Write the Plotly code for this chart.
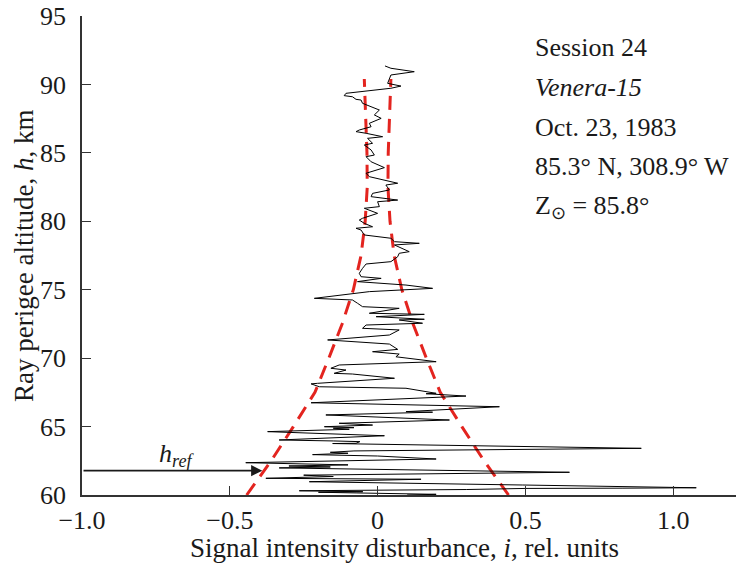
import plotly.graph_objects as go

# ---- data ----
signal_h = [91.35, 91.18, 90.93, 90.69, 90.08, 89.88, 89.72, 89.35, 89.18, 89.10,
            88.91, 88.86, 88.62, 88.26, 88.13, 87.77, 87.52, 87.16, 86.91, 86.67,
            86.55, 86.43, 86.18, 86.06, 85.70, 85.57, 85.21, 84.84, 84.72, 84.35,
            83.92, 83.51, 83.26, 82.78, 82.65, 82.29, 82.04, 81.80, 81.55, 81.43,
            81.07, 80.95, 80.58, 80.22, 80.09, 79.85, 79.60, 79.49, 79.36, 79.00,
            78.76, 78.51, 78.39, 78.27, 77.78, 77.66, 77.41, 77.05, 76.88, 76.56,
            76.20, 75.95, 75.83, 75.59, 75.34, 75.10, 74.86, 74.37, 74.25, 74.01,
            73.76, 73.64, 73.28, 73.20, 73.03, 72.84, 72.79, 72.55, 72.42, 72.18,
            72.06, 71.69, 71.33, 71.03, 70.64, 70.47, 70.30, 70.10, 69.92, 69.74,
            69.50, 69.26, 69.13, 68.89, 68.84, 68.53, 68.16, 68.12, 67.91, 67.80,
            67.43, 67.40, 67.23, 66.74, 66.45, 66.09, 66.05, 65.85, 65.48, 65.24,
            65.11, 64.99, 64.92, 64.88, 64.80, 64.63, 64.33, 64.02, 63.95, 63.90,
            63.78, 63.76, 63.41, 63.22, 63.12, 63.05, 62.95, 62.85, 62.63, 62.36,
            62.20, 62.12, 62.05, 61.98, 61.66, 61.45, 61.35, 61.30, 61.22, 61.15,
            60.97, 60.73, 60.60, 60.53, 60.50, 60.48, 60.40, 60.31, 60.24, 60.20,
            60.15, 60.10, 60.05, 60.00]
signal_i = [0.025, 0.045, 0.124, 0.045, 0.034, 0.079, 0.045, -0.107, -0.113, -0.085,
            -0.073, -0.056, -0.051, -0.011, 0.006, -0.011, 0.012, -0.028, -0.022, -0.062,
            -0.073, -0.039, 0.017, -0.034, -0.017, -0.045, -0.022, -0.011, -0.039, -0.022,
            0.023, -0.039, -0.028, 0.068, 0.028, 0.040, -0.017, -0.022, 0.068, 0.000,
            0.006, -0.045, 0.000, -0.051, -0.062, -0.045, -0.017, -0.073, -0.056, -0.045,
            0.045, 0.057, 0.141, 0.057, 0.107, 0.073, 0.068, 0.045, -0.039, -0.051,
            -0.062, -0.056, 0.012, -0.068, 0.096, 0.186, -0.028, -0.214, -0.085, -0.068,
            -0.051, 0.073, -0.028, 0.158, -0.005, 0.158, 0.073, 0.152, -0.039, -0.051,
            0.073, 0.040, -0.169, 0.040, 0.068, -0.017, 0.073, 0.062, 0.130, 0.198,
            -0.130, -0.158, -0.107, -0.147, -0.085, 0.057, -0.203, -0.225, -0.197, 0.096,
            0.198, 0.164, 0.299, -0.225, 0.412, 0.096, 0.186, -0.175, 0.243, -0.130,
            -0.017, -0.180, -0.080, -0.150, -0.096, -0.372, 0.023, -0.333, -0.150, -0.060,
            -0.073, -0.152, 0.892, -0.080, -0.160, -0.100, -0.220, 0.000, 0.198, -0.446,
            -0.100, -0.300, -0.160, -0.333, 0.649, -0.250, -0.150, -0.300, -0.378, 0.147,
            -0.231, 0.491, 0.800, 1.078, 0.830, 0.502, 0.300, -0.265, -0.050, -0.200,
            -0.070, 0.050, 0.198, 0.100]

envelope_h = [60.0, 62.5, 65.0, 67.5, 70.0, 72.5, 75.0, 77.5, 80.0, 82.5, 85.0, 87.5, 90.4]
envelope_left = [-0.443, -0.360, -0.285, -0.212, -0.165, -0.120, -0.082, -0.056, -0.042, -0.035, -0.036, -0.040, -0.045]
envelope_right = [0.443, 0.360, 0.285, 0.212, 0.165, 0.120, 0.082, 0.056, 0.042, 0.035, 0.036, 0.040, 0.045]

x_tick_vals = [-1.0, -0.5, 0.0, 0.5, 1.0]
x_tick_text = ["\u22121.0", "\u22120.5", "0", "0.5", "1.0"]
y_tick_vals = [60, 65, 70, 75, 80, 85, 90, 95]

h_ref = 61.78
h_ref_arrow_tip = -0.39

info_lines = ["Session 24", "<i>Venera-15</i>", "Oct. 23, 1983",
              "85.3° N, 308.9° W", "Z<sub>\u2299</sub> = 85.8°"]

# ---- figure ----
FONT = "Liberation Serif"
TXT = "#1a1a1a"
W, H = 736, 563
ML, MR, MT, MB = 82, 0, 16, 68
PW, PH = W - ML - MR, H - MT - MB
XMIN = -1.0
XMAX = XMIN + PW / 295.6

fig = go.Figure()
red = "#e3241f"
fig.add_trace(go.Scatter(x=envelope_left, y=envelope_h, mode="lines",
                         line=dict(color=red, width=3, dash="14px,9px"),
                         hoverinfo="skip", showlegend=False))
fig.add_trace(go.Scatter(x=envelope_right, y=envelope_h, mode="lines",
                         line=dict(color=red, width=3, dash="14px,9px"),
                         hoverinfo="skip", showlegend=False))
fig.add_trace(go.Scatter(x=signal_i, y=signal_h, mode="lines",
                         line=dict(color="black", width=1),
                         showlegend=False))

def py_to_paper(py):
    return 1 - (py - MT) / PH

def px_to_paper(px):
    return (px - ML) / PW

annotations = []
for k, t in enumerate(info_lines):
    annotations.append(dict(text=t, xref="paper", yref="paper",
                            x=px_to_paper(533), y=py_to_paper(47 + 40 * k),
                            xanchor="left", yanchor="middle", showarrow=False,
                            font=dict(family=FONT, size=26, color=TXT)))

# h_ref arrow
annotations.append(dict(x=h_ref_arrow_tip, y=h_ref, ax=XMIN, ay=h_ref,
                        xref="x", yref="y", axref="x", ayref="y",
                        showarrow=True, arrowhead=2, arrowsize=1.4, arrowwidth=1.6,
                        arrowcolor=TXT, text=""))
annotations.append(dict(text="<i>h<sub>ref</sub></i>", xref="paper", yref="paper",
                        x=px_to_paper(176), y=py_to_paper(455), xanchor="center",
                        yanchor="middle", showarrow=False,
                        font=dict(family=FONT, size=26, color=TXT)))
# axis titles
annotations.append(dict(text="Signal intensity disturbance, <i>i</i>, rel. units",
                        xref="paper", yref="paper", x=px_to_paper(404), y=py_to_paper(548),
                        xanchor="center", yanchor="middle", showarrow=False,
                        font=dict(family=FONT, size=27, color=TXT)))
annotations.append(dict(text="Ray perigee altitude, <i>h</i>, km",
                        xref="paper", yref="paper", x=px_to_paper(24), y=py_to_paper(256),
                        xanchor="center", yanchor="middle", showarrow=False, textangle=-90,
                        font=dict(family=FONT, size=27, color=TXT)))

fig.update_layout(
    width=W, height=H, margin=dict(l=ML, r=MR, t=MT, b=MB, pad=0),
    paper_bgcolor="white", plot_bgcolor="white",
    font=dict(family=FONT, size=26, color=TXT),
    annotations=annotations,
    xaxis=dict(range=[XMIN, XMAX], showgrid=False, zeroline=False,
               showline=True, linecolor="#333", linewidth=2,
               ticks="inside", ticklen=9, tickwidth=1.3, tickcolor="#333",
               tickvals=x_tick_vals, ticktext=x_tick_text,
               tickfont=dict(family=FONT, size=26, color=TXT),
               ticklabelstandoff=1),
    yaxis=dict(range=[60, 95], showgrid=False, zeroline=False,
               showline=True, linecolor="#333", linewidth=1.5,
               ticks="inside", ticklen=9, tickwidth=1.3, tickcolor="#333",
               tickvals=y_tick_vals,
               tickfont=dict(family=FONT, size=26, color=TXT),
               ticklabelstandoff=9),
)

fig.write_html("out.html")
